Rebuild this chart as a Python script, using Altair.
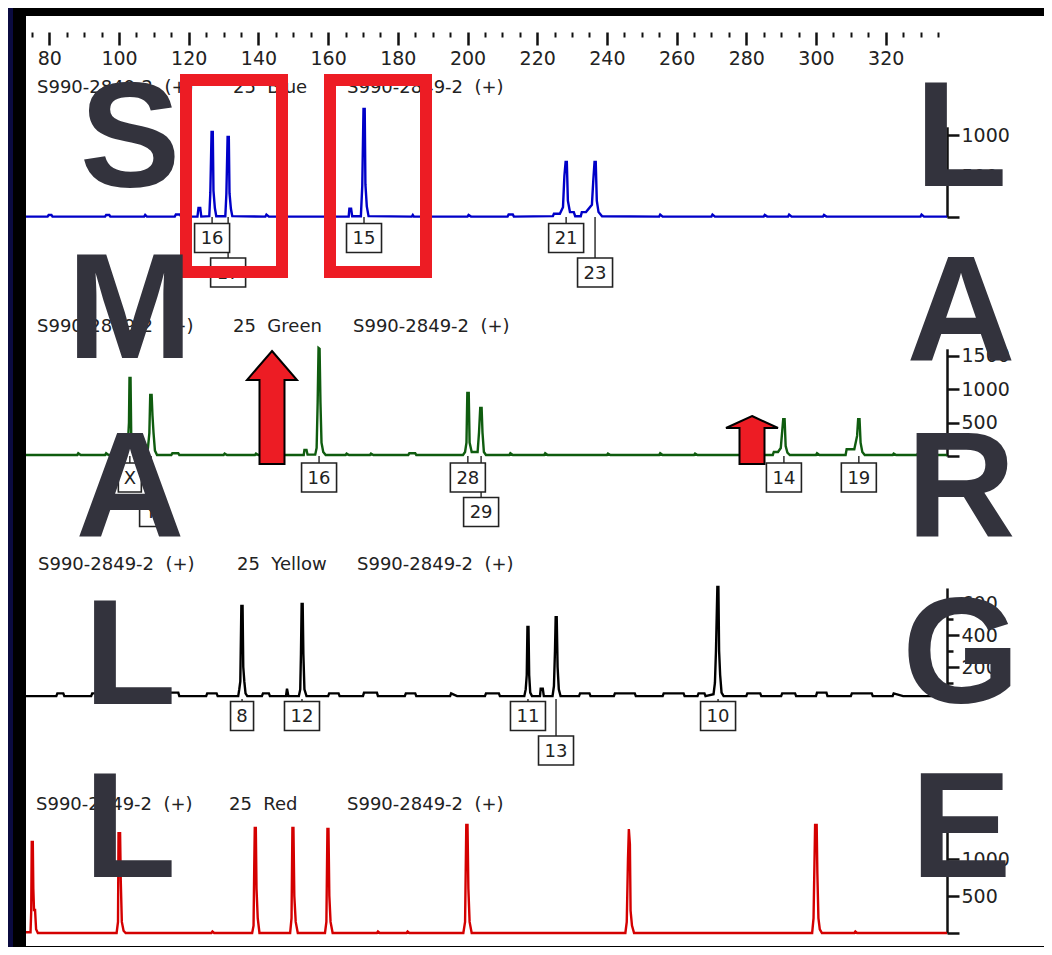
import altair as alt
import pandas as pd

# ---------------- data ----------------
# size axis (bp) tick positions
tick_values = list(range(75, 336, 5))

# traces: (size in bp, signal in RFU)
blue_trace = [
    (73.3, 5), (79.5, 5), (79.8, 25), (80.6, 25), (80.9, 5), (96.0, 5), (96.3, 25), (97.2, 25), (97.5, 5),
    (107.2, 5), (107.5, 25), (108.0, 5), (116.0, 5), (116.3, 30), (117.5, 30), (117.8, 5),
    (122.5, 5), (122.8, 110), (123.3, 110), (123.6, 5), (125.9, 10), (126.2, 300), (126.55, 1036),
    (126.9, 1036), (127.1, 320), (127.5, 110), (127.9, 10),
    (130.5, 10), (130.8, 280), (131.15, 975), (131.5, 975), (131.7, 290), (132.1, 100), (132.5, 10),
    (142.0, 5), (142.3, 30), (143.0, 5),
    (165.9, 5), (166.1, 100), (166.6, 100), (166.9, 10), (169.4, 10), (169.8, 380), (170.15, 1317),
    (170.5, 1317), (170.7, 400), (171.1, 130), (171.6, 10),
    (184.0, 5), (184.3, 25), (184.6, 5), (200.0, 5), (200.3, 25), (201.0, 5), (211.5, 5), (211.8, 30),
    (213.0, 30), (213.3, 5),
    (224.5, 10), (224.8, 40), (226.5, 40), (227.4, 120), (227.8, 500), (228.15, 670), (228.5, 670),
    (228.8, 200), (229.4, 60), (230.5, 60), (230.9, 10),
    (232.5, 10), (232.8, 60), (234.0, 60), (235.7, 150), (236.1, 450), (236.45, 670), (236.8, 670),
    (237.1, 200), (237.6, 60), (238.6, 10),
    (255.0, 5), (255.3, 30), (256.0, 5), (270.0, 5), (270.3, 30), (271.0, 5), (285.0, 5), (285.3, 25),
    (286.0, 5), (292.0, 5), (292.3, 30), (293.0, 5), (302.0, 5), (302.3, 25), (303.0, 5), (330.0, 5),
    (330.3, 30), (331.0, 5), (337.6, 5),
]

green_trace = [
    (73.3, 15), (88, 15), (88.3, 40), (89, 15), (96, 15), (96.3, 40), (97, 15),
    (101.0, 15), (101.8, 60), (102.5, 150), (102.85, 500), (103.0, 1164), (103.3, 1164), (103.5, 300),
    (103.9, 60), (104.6, 15),
    (107.9, 20), (108.3, 120), (108.7, 343), (108.95, 910), (109.35, 910), (109.6, 600), (109.9, 343),
    (110.3, 80), (110.9, 15),
    (115, 15), (115.3, 40), (117, 40), (117.3, 15), (130, 15), (130.3, 35), (131, 15), (139, 15),
    (139.3, 35), (140, 15),
    (153.0, 15), (153.2, 90), (153.8, 90), (154.1, 20), (156.3, 20), (156.7, 120), (157.0, 800),
    (157.25, 1612), (157.55, 1600), (157.8, 800), (158.1, 200), (158.6, 60), (159.3, 15),
    (165, 15), (165.3, 35), (166, 15), (172, 15), (172.3, 35), (173, 15), (183, 15), (183.3, 40),
    (185, 40), (185.3, 15),
    (198.7, 15), (199.3, 60), (199.7, 200), (199.95, 940), (200.35, 940), (200.6, 200), (201.2, 60),
    (202.9, 60), (203.3, 350), (203.65, 716), (204.05, 716), (204.3, 350), (204.7, 60), (205.3, 15),
    (212, 15), (212.3, 40), (213, 15), (222, 15), (222.3, 40), (223, 15), (240, 15), (240.3, 35),
    (241, 15), (255, 15), (255.3, 40), (256, 15), (265, 15), (265.3, 35), (266, 15),
    (287.6, 15), (287.9, 60), (289.1, 60), (289.9, 120), (290.6, 550), (291.0, 550), (291.3, 150),
    (291.8, 50), (292.5, 15),
    (300, 15), (300.3, 40), (301, 15),
    (308.5, 15), (308.8, 100), (309.8, 100), (311.0, 100), (311.8, 300), (312.1, 550), (312.5, 550),
    (312.8, 200), (313.3, 60), (314.0, 15),
    (322, 15), (322.3, 35), (323, 15), (329, 15), (329.3, 40), (330, 15), (337.6, 15),
]

yellow_trace = [
    (73.3, 18), (82, 18), (82.3, 35), (84, 35), (84.3, 18), (92, 18), (92.3, 35), (94, 35), (94.3, 18),
    (104, 18), (104.3, 35), (106, 18), (114, 18), (114.3, 40), (117, 40), (117.3, 18), (125, 18),
    (125.3, 35), (128, 35), (128.3, 18),
    (134.2, 18), (134.5, 60), (134.8, 110), (135.1, 581), (135.45, 581), (135.65, 200), (135.95, 110),
    (136.3, 35), (136.8, 18),
    (141, 18), (141.3, 35), (143, 35), (143.3, 18), (147.9, 18), (148.2, 65), (148.6, 18),
    (151.6, 18), (152.0, 60), (152.2, 280), (152.4, 594), (152.7, 594), (152.9, 280), (153.2, 60),
    (153.8, 18),
    (160, 18), (160.3, 35), (163, 35), (163.3, 18), (170, 18), (170.3, 40), (174, 40), (174.3, 18),
    (182, 18), (182.3, 35), (185, 35), (185.3, 18), (195, 18), (195.3, 35), (197, 18), (205, 18),
    (205.3, 35), (209, 35), (209.3, 18),
    (216.3, 18), (216.7, 60), (217.0, 150), (217.2, 450), (217.5, 450), (217.7, 150), (218.0, 40),
    (218.5, 18), (220.8, 18), (221.0, 65), (221.6, 65), (221.9, 18),
    (224.4, 18), (224.8, 80), (225.1, 300), (225.3, 512), (225.6, 512), (225.85, 200), (226.2, 60),
    (226.7, 18),
    (232, 18), (232.3, 35), (235, 35), (235.3, 18), (242, 18), (242.3, 35), (248, 35), (248.3, 18),
    (256, 18), (256.3, 35), (262, 35), (262.3, 18), (266, 18), (266.3, 35), (268, 35), (268.3, 18),
    (270.6, 30), (271.0, 100), (271.3, 300), (271.7, 700), (272.0, 700), (272.2, 300), (272.5, 150),
    (272.9, 40), (273.5, 18),
    (280, 18), (280.3, 35), (284, 35), (284.3, 18), (290, 18), (290.3, 35), (294, 35), (294.3, 18),
    (300, 18), (300.3, 40), (303, 40), (303.3, 18), (310, 18), (310.3, 35), (316, 35), (316.3, 18),
    (322, 18), (322.3, 35), (325, 18), (337.6, 18),
]

red_trace = [
    (73.3, 10), (74.6, 10), (74.8, 300), (74.95, 1230), (75.25, 1230), (75.4, 600), (75.6, 310),
    (75.9, 310), (76.2, 50), (76.7, 0),
    (99.3, 0), (99.7, 150), (99.85, 1350), (100.3, 1350), (100.5, 700), (100.8, 150), (101.3, 30),
    (101.9, 0),
    (126.5, 0), (126.8, 20), (127.3, 0),
    (138.2, 0), (138.6, 100), (138.8, 900), (138.95, 1420), (139.25, 1420), (139.45, 600), (139.8, 200),
    (140.3, 0),
    (149.1, 0), (149.5, 200), (149.75, 1420), (150.05, 1420), (150.3, 500), (150.7, 150), (151.3, 0),
    (159.1, 0), (159.5, 150), (159.8, 1405), (160.1, 1405), (160.35, 500), (160.7, 150), (161.3, 0),
    (174, 0), (174.3, 20), (174.8, 0), (182.5, 0), (182.8, 20), (183.3, 0),
    (198.8, 0), (199.3, 150), (199.65, 1460), (200.0, 1460), (200.25, 600), (200.6, 150), (201.2, 0),
    (245.3, 0), (245.7, 150), (246.05, 1000), (246.3, 1405), (246.6, 1200), (246.8, 300), (247.2, 100),
    (247.8, 0),
    (298.9, 0), (299.3, 200), (299.75, 1460), (300.2, 1460), (300.4, 800), (300.7, 200), (301.1, 50),
    (301.7, 0),
    (311, 0), (311.3, 20), (311.8, 0), (337.6, 0),
]

# allele call boxes: label, size (bp), row (1 = first row, 2 = second row)
blue_calls = [("16", 126.7, 1), ("17", 131.3, 2), ("15", 170.3, 1), ("21", 228.3, 1), ("23", 236.6, 2)]
green_calls = [("X", 103.1, 1), ("Y", 109.2, 2), ("16", 157.4, 1), ("28", 200.1, 1), ("29", 203.9, 2),
               ("14", 290.8, 1), ("19", 312.3, 1)]
yellow_calls = [("8", 135.3, 1), ("12", 152.5, 1), ("11", 217.35, 1), ("13", 225.4, 2), ("10", 271.9, 1)]

sample_name = "S990-2849-2\u00a0 (+)"
dye_titles = ["25\u00a0 Blue", "25\u00a0 Green", "25\u00a0 Yellow", "25\u00a0 Red"]
left_word = "SMALL"
right_word = "LARGE"

# ---------------- layout / styles (chart pixels) ----------------
W, H = 939, 24
TOTAL_W, TOTAL_H = 1036, 939
FONT = "DejaVu Sans"

panels = [
    dict(name="blue", trace=blue_trace, calls=blue_calls, color="#0000c8", base=209, k=0.082, top=1100,
         ticks=[0, 500, 1000], row1=230, row2=264.5, ty=85, tx=[29, 225, 339]),
    dict(name="green", trace=green_trace, calls=green_calls, color="#0f5c0f", base=448, k=0.067, top=1600,
         ticks=[0, 500, 1000, 1500], row1=469.5, row2=504, ty=324, tx=[29, 225, 345]),
    dict(name="yellow", trace=yellow_trace, calls=yellow_calls, color="#000000", base=691, k=0.16, top=694,
         ticks=[0, 100, 200, 300, 400, 500, 600], row1=708, row2=742.5, ty=562, tx=[30, 229, 349]),
    dict(name="red", trace=red_trace, calls=[], color="#d40000", base=925, k=0.074, top=1365,
         ticks=[0, 500, 1000], row1=0, row2=0, ty=802, tx=[28, 221, 339]),
]

x_scale = alt.Scale(domain=[73.3, 337.6], range=[18, W], nice=False, zero=False)
x_axis = alt.Axis(
    orient="bottom", values=tick_values, title=None, grid=False, domain=False,
    labelExpr="datum.value % 20 === 0 ? datum.label : ''",
    tickSize={"condition": {"test": "datum.value % 20 === 0", "value": 13}, "value": 5},
    tickWidth={"condition": {"test": "datum.value % 20 === 0", "value": 2.5}, "value": 2},
    tickColor="#111", labelFont=FONT, labelFontSize=19, labelColor="#222",
    labelPadding=4, labelOverlap=False, labelFlush=False, format="d",
)
X_BP = alt.X("bp:Q", scale=x_scale, axis=x_axis)


def px(field):
    return alt.X(field, scale=None, axis=None)


def py(field):
    return alt.Y(field, scale=None, axis=None)


layers = []

# frame of the slide
frame = pd.DataFrame([
    dict(x1=0, x2=TOTAL_W, y1=0, y2=8, c="#000000"),
    dict(x1=0, x2=18, y1=0, y2=TOTAL_H, c="#000000"),
    dict(x1=0, x2=TOTAL_W, y1=938, y2=TOTAL_H, c="#000000"),
    dict(x1=0, x2=5, y1=0, y2=TOTAL_H, c="#0b0b40"),
])
layers.append(alt.Chart(frame).mark_rect().encode(
    x=px("x1:Q"), x2="x2:Q", y=py("y1:Q"), y2="y2:Q", color=alt.Color("c:N", scale=None)))

# traces with their own right-hand axes
for p in panels:
    df = pd.DataFrame(p["trace"], columns=["bp", "rfu"])
    if p["name"] == "yellow":
        tsize = {"condition": {"test": "datum.value % 200 === 0 && datum.value > 0", "value": 12}, "value": 6}
        lexpr = "datum.value % 200 === 0 && datum.value > 0 ? datum.label : ''"
    else:
        tsize = 12
        lexpr = "datum.value > 0 ? datum.label : ''"
    y_axis = alt.Axis(
        orient="right", offset=0, values=p["ticks"], labelExpr=lexpr, title=None, grid=False,
        tickSize=tsize, tickWidth=2.5, tickColor="#111", domainColor="#111", domainWidth=2.5,
        labelFont=FONT, labelFontSize=19, labelColor="#222", labelPadding=2, format="d",
        labelOverlap=False, labelFlush=False,
    )
    y_scale = alt.Scale(domain=[0, p["top"]], range=[p["base"], p["base"] - p["top"] * p["k"]],
                        nice=False, zero=False)
    layers.append(alt.Chart(df).mark_line(color=p["color"], strokeWidth=2.4).encode(
        x=X_BP, y=alt.Y("rfu:Q", scale=y_scale, axis=y_axis)))

# allele call boxes
wide_box = "M-17.5,-14.5H17.5V14.5H-17.5Z"
narrow_box = "M-11.5,-14.5H11.5V14.5H-11.5Z"
rows = []
for p in panels:
    for lab, bp, row in p["calls"]:
        yc = p["row1"] if row == 1 else p["row2"]
        rows.append(dict(bp=bp, text=lab, yc=yc, y1=p["base"], y2=yc - 14.5,
                         shape=wide_box if len(lab) > 1 else narrow_box))
calls_df = pd.DataFrame(rows)
layers.append(alt.Chart(calls_df).mark_rule(color="#222", strokeWidth=1.4).encode(
    x=X_BP, y=py("y1:Q"), y2="y2:Q"))
layers.append(alt.Chart(calls_df).mark_point(
    filled=True, fill="white", stroke="#222", strokeWidth=1.6, size=4, opacity=1).encode(
    x=X_BP, y=py("yc:Q"), shape=alt.Shape("shape:N", scale=None)))
layers.append(alt.Chart(calls_df).mark_text(
    font=FONT, fontSize=18, color="#222", align="center", baseline="middle", dy=1).encode(
    x=X_BP, y=py("yc:Q"), text="text:N"))

# panel headers
hdr = []
for p, dye in zip(panels, dye_titles):
    for x, t in zip(p["tx"], [sample_name, dye, sample_name]):
        hdr.append(dict(px=x, py=p["ty"], text=t))
layers.append(alt.Chart(pd.DataFrame(hdr)).mark_text(
    font=FONT, fontSize=18, color="#222", align="left", baseline="alphabetic").encode(
    x=px("px:Q"), y=py("py:Q"), text="text:N"))

# red highlight rectangles
boxes = pd.DataFrame([dict(x1=178, x2=274, y1=72, y2=264), dict(x1=322, x2=418, y1=72, y2=264)])
layers.append(alt.Chart(boxes).mark_rect(filled=False, color="#ed1c24", strokeWidth=12).encode(
    x=px("x1:Q"), x2="x2:Q", y=py("y1:Q"), y2="y2:Q"))

# red arrows
arrows = pd.DataFrame([
    dict(px=264, py=399, shape="M0,-56L25,-27L12.5,-27L12.5,57L-12.5,57L-12.5,-27L-25,-27Z"),
    dict(px=744, py=432, shape="M0,-24L26,-12L12.5,-12L12.5,24L-12.5,24L-12.5,-12L-26,-12Z"),
])
layers.append(alt.Chart(arrows).mark_point(
    filled=True, fill="#ed1c24", stroke="#000", strokeWidth=2, size=4, opacity=1).encode(
    x=px("px:Q"), y=py("py:Q"), shape=alt.Shape("shape:N", scale=None)))

# big letters
left_base = [179, 350, 528, 696, 869]
right_base = [178, 352, 528, 695, 869]
let = []
for ch, b in zip(left_word, left_base):
    let.append(dict(px=122, py=b, text=ch))
for ch, b in zip(right_word, right_base):
    let.append(dict(px=953, py=b, text=ch))
layers.append(alt.Chart(pd.DataFrame(let)).mark_text(
    font="Liberation Sans", fontWeight="bold", fontSize=151, color="#33333d",
    align="center", baseline="alphabetic").encode(
    x=px("px:Q"), y=py("py:Q"), text="text:N"))

chart = alt.layer(*layers).resolve_scale(y="independent").properties(
    width=W, height=H,
    autosize=alt.AutoSizeParams(type="none"),
    padding={"left": 0, "top": 0, "right": TOTAL_W - W, "bottom": TOTAL_H - H},
    background="white",
).configure_view(stroke=None)

chart.save("out.html", embed_options={"renderer": "svg", "actions": False})
